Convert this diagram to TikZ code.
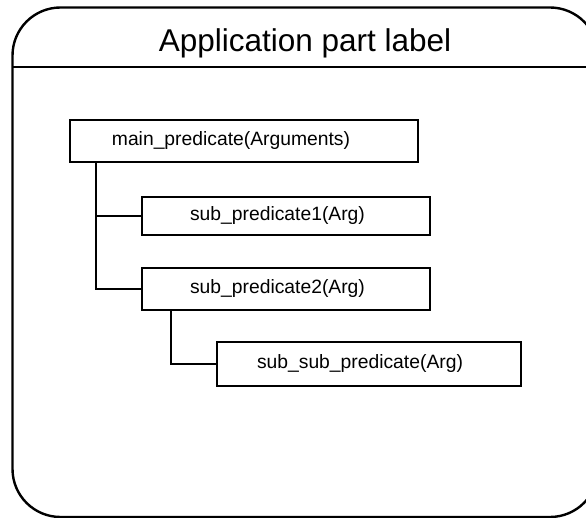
\documentclass[tikz,border=0pt]{standalone}
\usepackage{fontspec}
\setmainfont{Liberation Sans}
\begin{document}
\begin{tikzpicture}[x=1pt,y=-1pt,
  frame/.style={draw=black,line width=2.4pt},
  pbox/.style={draw=black,line width=2.4pt,rectangle,inner sep=0pt,
    font=\fontsize{19.3}{23}\selectfont},
  link/.style={draw=black,line width=2.4pt}]
\useasboundingbox (0,0) rectangle (586,518);
\begin{scope}
\clip (0,0) rectangle (586,518);
% outer application part frame with its header band
\draw[frame,rounded corners=48pt] (12.5,7.5) rectangle (598,517);
\draw[frame] (12.5,67) -- (598,67);
\end{scope}
\node[anchor=base,font=\fontsize{31.5}{36}\selectfont] (title) at (305,52) {Application part label};

% predicate boxes
\node[pbox,minimum width=348pt,minimum height=42pt] (main) at (244,141)
  {main\_predicate(Arguments)\hspace*{26pt}};
\node[pbox,minimum width=288pt,minimum height=38pt] (sub1) at (286,216)
  {sub\_predicate1(Arg)\hspace*{17pt}};
\node[pbox,minimum width=288pt,minimum height=42pt] (sub2) at (286,289)
  {sub\_predicate2(Arg)\hspace*{17pt}};
\node[pbox,minimum width=304pt,minimum height=44pt] (subsub) at (369,364)
  {sub\_sub\_predicate(Arg)\hspace*{18pt}};

% tree connectors
\coordinate (trunk) at ([xshift=27pt]main.south west);
\coordinate (subtrunk) at ([xshift=30pt]sub2.south west);
\draw[link] (trunk) |- (sub2.west);
\draw[link] (trunk |- sub1.west) -- (sub1.west);
\draw[link] (subtrunk) |- (subsub.west);
\end{tikzpicture}
\end{document}
